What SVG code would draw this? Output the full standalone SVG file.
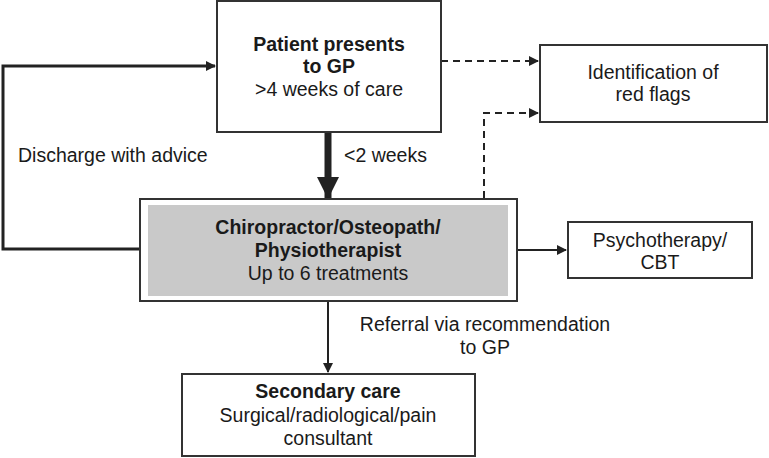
<svg xmlns="http://www.w3.org/2000/svg" width="769" height="458" viewBox="0 0 769 458">
<defs>
<style>
text{font-family:"Liberation Sans",Arial,sans-serif;font-size:19.5px;fill:#1a1a1a;text-anchor:middle}
.b{font-weight:bold}
.l{text-anchor:start}
.box{fill:#fff;stroke:#333;stroke-width:2}
.ln{fill:none;stroke:#222;stroke-width:2}
.dash{fill:none;stroke:#222;stroke-width:2;stroke-dasharray:7,5}
</style>
<marker id="ah" markerWidth="10" markerHeight="10" refX="9" refY="5" orient="auto" markerUnits="userSpaceOnUse"><path d="M0,0 L10,5 L0,10 Z" fill="#222"/></marker>
<marker id="ahb" markerWidth="22" markerHeight="22" refX="21" refY="11" orient="auto" markerUnits="userSpaceOnUse"><path d="M0,0 L22,11 L0,22 Z" fill="#222"/></marker>
</defs>
<g id="connectors">
<path class="ln" d="M140,249 H3 V66 H215" style="stroke-width:3" marker-end="url(#ah)"/>
<path class="ln" d="M328,133 V198" style="stroke-width:7" marker-end="url(#ahb)"/>
<path class="dash" d="M441,61 H538" marker-end="url(#ah)"/>
<path class="dash" d="M484,198 V113 H538" marker-end="url(#ah)"/>
<path class="ln" d="M517,250 H566" marker-end="url(#ah)"/>
<path class="ln" d="M328,302 V372" marker-end="url(#ah)"/>
<text class="l" x="18" y="162">Discharge with advice</text>
<text class="l" x="344" y="162">&lt;2 weeks</text>
<text x="485" y="331">Referral via recommendation</text>
<text x="485" y="354">to GP</text>
</g>
<g id="patient">
<rect class="box" x="217" y="1" width="224" height="131"/>
<text class="b" x="329" y="51">Patient presents</text>
<text class="b" x="329" y="73">to GP</text>
<text x="329" y="96">&gt;4 weeks of care</text>
</g>
<g id="redflags">
<rect class="box" x="540" y="45" width="227" height="77"/>
<text x="653" y="79">Identification of</text>
<text x="653" y="101">red flags</text>
</g>
<g id="chiro">
<rect class="box" x="140" y="199" width="377" height="102"/>
<rect x="148" y="205" width="360" height="91" fill="#c9c9c9"/>
<text class="b" x="328" y="234">Chiropractor/Osteopath/</text>
<text class="b" x="328" y="257">Physiotherapist</text>
<text x="328" y="280">Up to 6 treatments</text>
</g>
<g id="psycho">
<rect class="box" x="568" y="222" width="184" height="56"/>
<text x="660" y="247">Psychotherapy/</text>
<text x="660" y="269">CBT</text>
</g>
<g id="secondary">
<rect class="box" x="182" y="374" width="293" height="82"/>
<text class="b" x="328" y="398">Secondary care</text>
<text x="328" y="422">Surgical/radiological/pain</text>
<text x="328" y="445">consultant</text>
</g>
</svg>
